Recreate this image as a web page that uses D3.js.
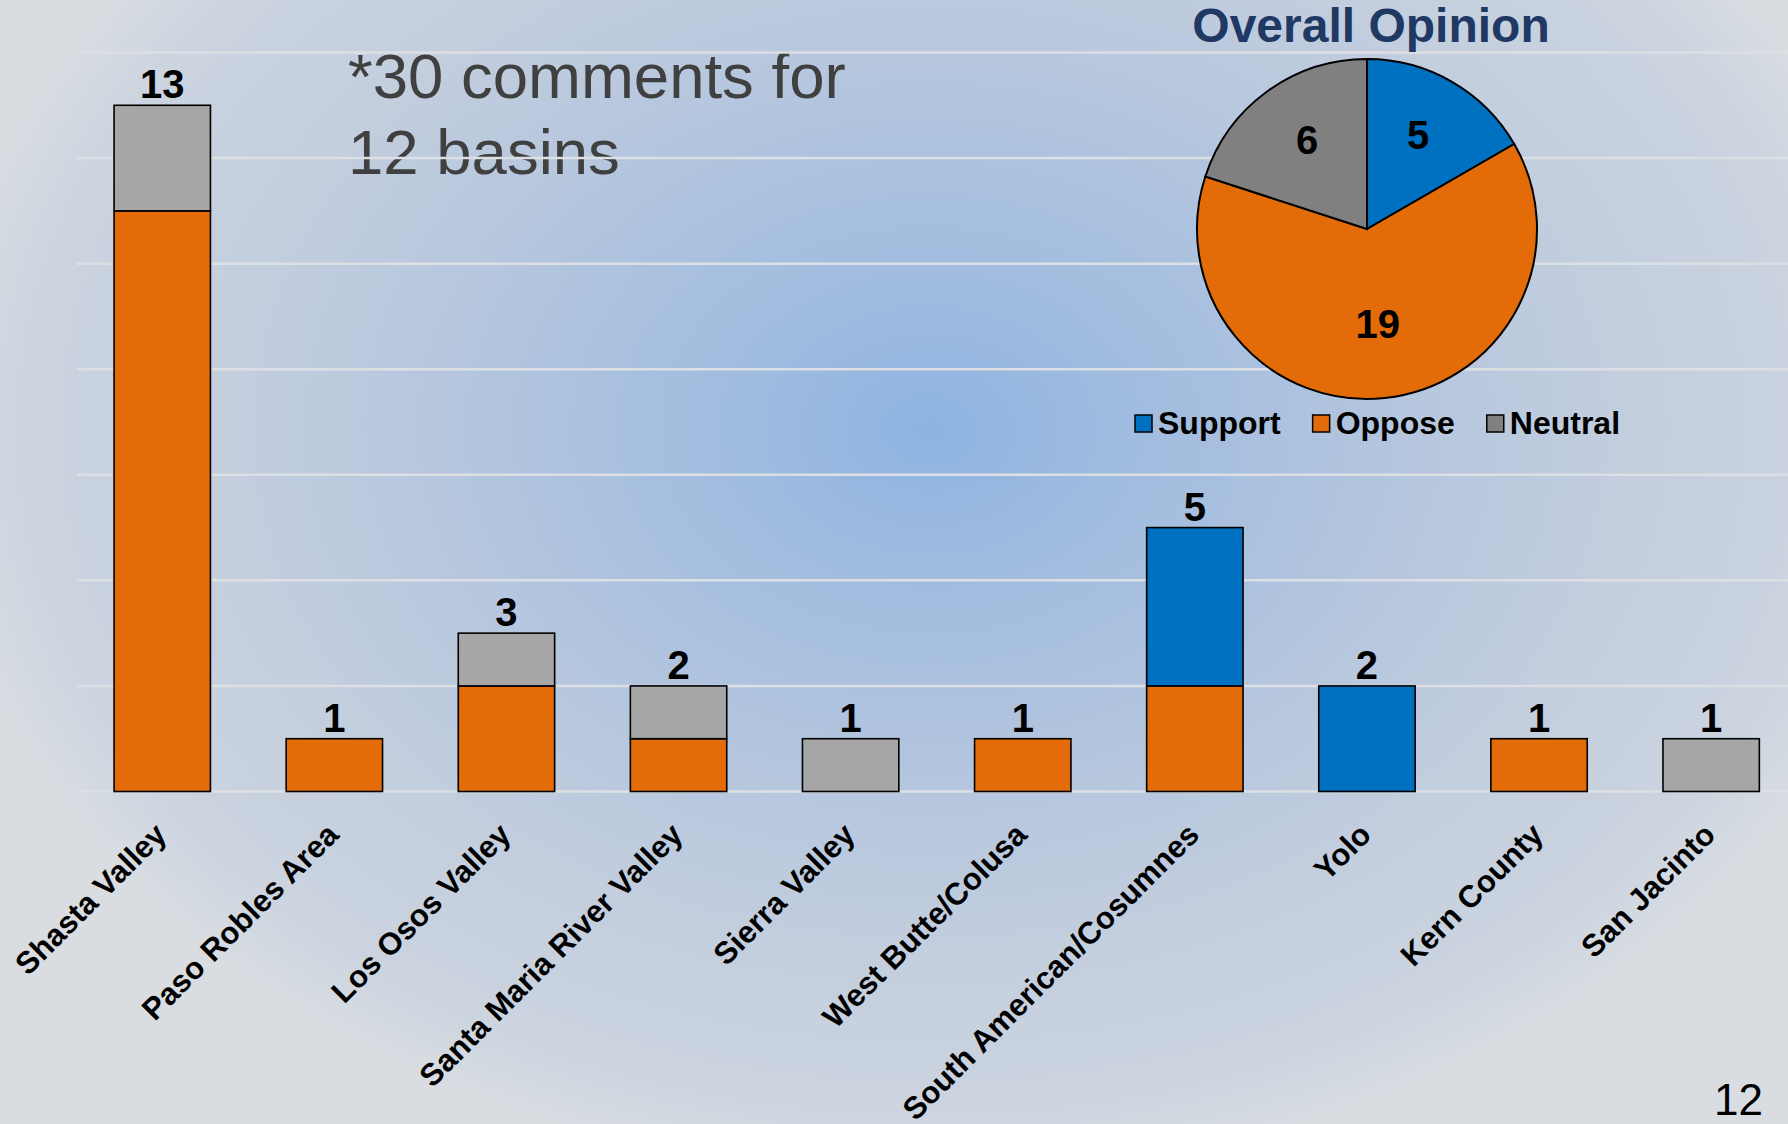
<!DOCTYPE html>
<html><head><meta charset="utf-8">
<script src="https://cdn.jsdelivr.net/npm/d3@7"></script>
<style>html,body{margin:0;padding:0;overflow:hidden;background:#D9DDE2}</style>
</head><body>
<svg id="chart" width="1788" height="1124"></svg>
<script>
// ---- data ----
const categories = ["Shasta Valley","Paso Robles Area","Los Osos Valley","Santa Maria River Valley","Sierra Valley","West Butte/Colusa","South American/Cosumnes","Yolo","Kern County","San Jacinto"];
const oppose  = [11,1,2,1,0,1,2,0,1,0];
const support = [0,0,0,0,0,0,3,2,0,0];
const neutral = [2,0,1,1,1,0,0,0,0,1];
const seriesKeys = ["oppose","support","neutral"];
const yTicks = [0,2,4,6,8,10,12,14];
const pieLabels = ["Support","Oppose","Neutral"];
const pieValues = [5,19,6];
const noteLines = ["*30 comments for","12 basins"];
const chartTitle = "Overall Opinion";
const pageNumber = "12";

// ---- styles ----
const FONT = "'Liberation Sans', Arial, Helvetica, sans-serif";
const barColors = {oppose:"#E36C09", support:"#0070C0", neutral:"#A6A6A6"};
const pieColors = {Support:"#0070C0", Oppose:"#E36C09", Neutral:"#808080"};

const W = 1788, H = 1124;
const svg = d3.select("#chart");

// background gradient
const defs = svg.append("defs");
const grad = defs.append("radialGradient").attr("id","bg")
  .attr("gradientUnits","userSpaceOnUse")
  .attr("cx",930).attr("cy",430).attr("r",1000)
  .attr("gradientTransform","translate(930,430) scale(1,0.75) translate(-930,-430)");
[[0,"#8DB3E2"],[0.15,"#9CBAE0"],[0.45,"#B3C5DE"],[0.7,"#C3CEDE"],[0.9,"#CBD4DF"],[1,"#D9DDE2"]]
  .forEach(([o,c]) => grad.append("stop").attr("offset",o).attr("stop-color",c));
svg.append("rect").attr("width",W).attr("height",H).attr("fill","url(#bg)");

// note text
const note = svg.append("text").attr("font-family",FONT).attr("font-size",63.5).attr("fill","#404040");
noteLines.forEach((t,i) => note.append("tspan").attr("x",348).attr("y",98 + i*76).text(t));

// scales
const x = d3.scaleBand().domain(categories).range([76.2, 76.2 + 172.1*10]).paddingInner(0.44).paddingOuter(0.22);
const y = d3.scaleLinear().domain([0,14]).range([791.5, 52.5]);

// gridlines
svg.append("g").selectAll("line").data(yTicks).join("line")
  .attr("x1",77).attr("x2",W)
  .attr("y1",d=>y(d)).attr("y2",d=>y(d))
  .attr("stroke","#DCDFE3").attr("stroke-width",2.5);

// stacked bars
const rows = categories.map((c,i) => ({cat:c, oppose:oppose[i], support:support[i], neutral:neutral[i]}));
const stack = d3.stack().keys(seriesKeys)(rows);
const gBars = svg.append("g");
stack.forEach(layer => {
  gBars.append("g").selectAll("rect").data(layer.filter(d => d[1] - d[0] > 0)).join("rect")
    .attr("x", d => x(d.data.cat))
    .attr("width", x.bandwidth())
    .attr("y", d => y(d[1]))
    .attr("height", d => y(d[0]) - y(d[1]))
    .attr("fill", barColors[layer.key])
    .attr("stroke","#000").attr("stroke-width",1.6);
});

// totals
svg.append("g").selectAll("text").data(rows).join("text")
  .attr("x", d => x(d.cat) + x.bandwidth()/2)
  .attr("y", d => y(d.oppose + d.support + d.neutral) - 7)
  .attr("text-anchor","middle")
  .attr("font-family",FONT).attr("font-weight","bold").attr("font-size",40).attr("fill","#000")
  .text(d => d.oppose + d.support + d.neutral);

// category labels
svg.append("g").selectAll("text").data(categories).join("text")
  .attr("transform", d => `translate(${x(d) + x.bandwidth()/2 + 6},${y(0) + 45}) rotate(-45)`)
  .attr("text-anchor","end")
  .attr("font-family",FONT).attr("font-weight","bold").attr("font-size",31).attr("fill","#000")
  .text(d => d);

// pie title
svg.append("text").attr("x",1371).attr("y",42).attr("text-anchor","middle")
  .attr("font-family",FONT).attr("font-weight","bold").attr("font-size",48).attr("fill","#1F3864")
  .text(chartTitle);

// pie
const R = 170, cx = 1367, cy = 229;
const pieData = d3.pie().sort(null).value(d => d.v)(pieLabels.map((l,i) => ({l, v:pieValues[i]})));
const arc = d3.arc().innerRadius(0).outerRadius(R);
const labelArc = d3.arc().innerRadius(R*0.6).outerRadius(R*0.6);
const gPie = svg.append("g").attr("transform",`translate(${cx},${cy})`);
gPie.selectAll("path").data(pieData).join("path")
  .attr("d", arc).attr("fill", d => pieColors[d.data.l])
  .attr("stroke","#000").attr("stroke-width",2);
gPie.selectAll("text").data(pieData).join("text")
  .attr("transform", d => `translate(${labelArc.centroid(d)})`)
  .attr("text-anchor","middle").attr("dy","0.2em")
  .attr("font-family",FONT).attr("font-weight","bold").attr("font-size",40).attr("fill","#000")
  .text(d => d.data.v);

// legend
let lx = 1135;
pieLabels.forEach(l => {
  svg.append("rect").attr("x",lx).attr("y",415).attr("width",17).attr("height",17)
    .attr("fill",pieColors[l]).attr("stroke","#000").attr("stroke-width",1.5);
  const t = svg.append("text").attr("x",lx+23).attr("y",434)
    .attr("font-family",FONT).attr("font-weight","bold").attr("font-size",32).attr("fill","#000").text(l);
  lx = lx + 23 + t.node().getComputedTextLength() + 32;
});

// page number
svg.append("text").attr("x",1763).attr("y",1115).attr("text-anchor","end")
  .attr("font-family",FONT).attr("font-size",44).attr("fill","#000").text(pageNumber);
</script>
</body></html>
